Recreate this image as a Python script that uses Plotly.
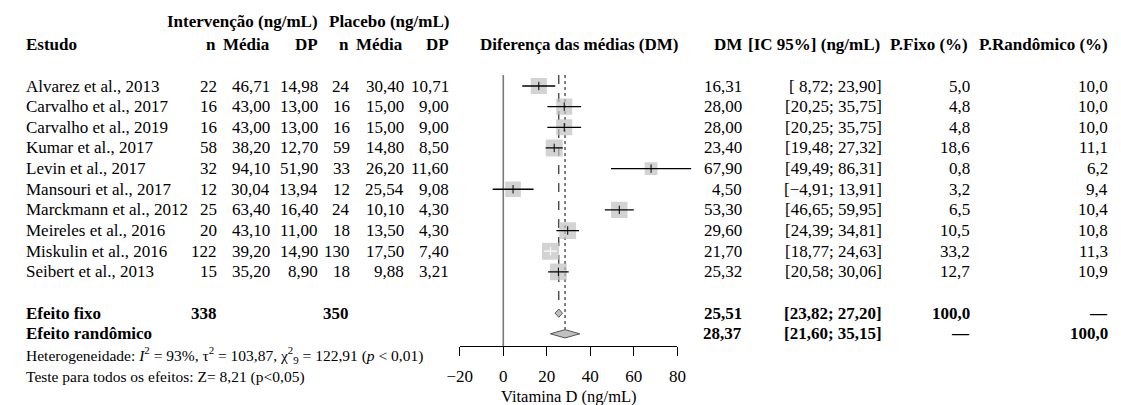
import plotly.graph_objects as go
import math

# ---------------- data ----------------
studies = ["Alvarez et al., 2013", "Carvalho et al., 2017", "Carvalho et al., 2019",
           "Kumar et al., 2017", "Levin et al., 2017", "Mansouri et al., 2017",
           "Marckmann et al., 2012", "Meireles et al., 2016", "Miskulin et al., 2016",
           "Seibert et al., 2013"]
n_int = [22, 16, 16, 58, 32, 12, 25, 20, 122, 15]
mean_int = [46.71, 43.00, 43.00, 38.20, 94.10, 30.04, 63.40, 43.10, 39.20, 35.20]
sd_int = [14.98, 13.00, 13.00, 12.70, 51.90, 13.94, 16.40, 11.00, 14.90, 8.90]
n_pla = [24, 16, 16, 59, 33, 12, 24, 18, 130, 18]
mean_pla = [30.40, 15.00, 15.00, 14.80, 26.20, 25.54, 10.10, 13.50, 17.50, 9.88]
sd_pla = [10.71, 9.00, 9.00, 8.50, 11.60, 9.08, 4.30, 4.30, 7.40, 3.21]
md = [16.31, 28.00, 28.00, 23.40, 67.90, 4.50, 53.30, 29.60, 21.70, 25.32]
ci_low = [8.72, 20.25, 20.25, 19.48, 49.49, -4.91, 46.65, 24.39, 18.77, 20.58]
ci_high = [23.90, 35.75, 35.75, 27.32, 86.31, 13.91, 59.95, 34.81, 24.63, 30.06]
w_fixed = [5.0, 4.8, 4.8, 18.6, 0.8, 3.2, 6.5, 10.5, 33.2, 12.7]
w_random = [10.0, 10.0, 10.0, 11.1, 6.2, 9.4, 10.4, 10.8, 11.3, 10.9]

total_n_int = 338
total_n_pla = 350
fixed_est, fixed_lo, fixed_hi = 25.51, 23.82, 27.20
rand_est, rand_lo, rand_hi = 28.37, 21.60, 35.15
het_text = ("Heterogeneidade: <i>I</i><sup>2</sup> = 93%, τ<sup>2</sup> = 103,87, "
            "χ<sup>2</sup><sub>9</sub> = 122,91 (<i>p</i> < 0,01)")
test_text = "Teste para todos os efeitos: Z= 8,21 (p<0,05)"
axis_ticks = [-20, 0, 20, 40, 60, 80]
axis_title = "Vitamina D (ng/mL)"

# ---------------- layout constants ----------------
W, H = 1121, 405
FONT = "Liberation Serif, Times New Roman, serif"
FS = 17
FS_SMALL = 15.5
row0_px, row_step = 86.0, 20.65
x_px0, x_px80 = 455.7, 677.7        # pixel of -20 and 80
scale = (x_px80 - x_px0) / 100.0    # px per unit
axis_px = 346
y_top = (0 - row0_px) / row_step
y_bot = (H - row0_px) / row_step
data_hi = 95


def fmt2(v):
    s = f"{abs(v):.2f}".replace(".", ",")
    return ("\u2212" if v < 0 else "") + s


def fmt1(v):
    return f"{v:.1f}".replace(".", ",")


def ci_txt(lo, hi):
    a = fmt2(lo)
    if len(a) < 5:
        a = "\u00a0" + a
    return f"[{a}; {fmt2(hi)}]"


fig = go.Figure()
annotations = []


def add(text, px, row, anchor="right", size=FS, bold=False):
    if bold:
        text = f"<b>{text}</b>"
    annotations.append(dict(text=text, x=px / W, xref="paper", y=row, yref="y",
                            xanchor=anchor, yanchor="middle", align=anchor,
                            showarrow=False, borderpad=0,
                            font=dict(family=FONT, size=size, color="black")))


# headers
add("Intervenção (ng/mL)", 312, -3.1, bold=True)
add("Placebo (ng/mL)", 446, -3.1, bold=True)
add("Estudo", 12, -2.0, "left", bold=True)
for txt, px in [("n", 208), ("Média", 263), ("DP", 312), ("n", 344), ("Média", 399), ("DP", 446)]:
    add(txt, px, -2.0, bold=True)
add("Diferença das médias (DM)", 577, -2.0, "center", bold=True)
add("DM", 745, -2.0, bold=True)
add("[IC 95%] (ng/mL)", 885, -2.0, bold=True)
add("P.Fixo (%)", 975, -2.0, bold=True)
add("P.Randômico (%)", 1118, -2.0, bold=True)

# study rows
for i, s in enumerate(studies):
    add(s, 12, i, "left")
    add(str(n_int[i]), 209, i)
    add(fmt2(mean_int[i]), 263, i)
    add(fmt2(sd_int[i]), 312, i)
    add(str(n_pla[i]), 345, i)
    add(fmt2(mean_pla[i]), 400, i)
    add(fmt2(sd_pla[i]), 446, i)
    add(fmt2(md[i]), 745, i)
    add(ci_txt(ci_low[i], ci_high[i]), 887, i)
    add(fmt1(w_fixed[i]), 977, i)
    add(fmt1(w_random[i]), 1118, i)

r_fix = len(studies) + 1
r_ran = len(studies) + 2
add("Efeito fixo", 12, r_fix, "left", bold=True)
add(str(total_n_int), 209, r_fix, bold=True)
add(str(total_n_pla), 344, r_fix, bold=True)
add(fmt2(fixed_est), 745, r_fix, bold=True)
add(ci_txt(fixed_lo, fixed_hi), 887, r_fix, bold=True)
add("100,0", 977, r_fix, bold=True)
add("—", 1118, r_fix, bold=True)
add("Efeito randômico", 12, r_ran, "left", bold=True)
add(fmt2(rand_est), 745, r_ran, bold=True)
add(ci_txt(rand_lo, rand_hi), 887, r_ran, bold=True)
add("—", 977, r_ran, bold=True)
add("100,0", 1118, r_ran, bold=True)
add(het_text, 12, r_ran + 1.02, "left", size=FS_SMALL)
add(test_text, 12, r_ran + 2.1, "left", size=FS_SMALL)
add(axis_title, 567, (396 - row0_px) / row_step, "center", size=16.5)

# reference lines
line_top = -0.53
axis_row = (axis_px - row0_px) / row_step
fig.add_trace(go.Scatter(x=[0, 0], y=[line_top, axis_row], mode="lines",
                         line=dict(color="#7a7a7a", width=1.6), hoverinfo="skip"))
fig.add_trace(go.Scatter(x=[fixed_est, fixed_est], y=[line_top, r_fix - 0.2], mode="lines",
                         line=dict(color="black", width=1, dash="dash"), hoverinfo="skip"))
fig.add_trace(go.Scatter(x=[rand_est, rand_est], y=[line_top, r_ran - 0.2], mode="lines",
                         line=dict(color="black", width=1, dash="dot"), hoverinfo="skip"))

# squares
sizes = [5.1 * math.sqrt(w) for w in w_random]
rows = list(range(len(studies)))
fig.add_trace(go.Scatter(x=md, y=rows, mode="markers",
                         marker=dict(symbol="square", size=sizes, color="#c0c0c0",
                                     line=dict(width=0)), hoverinfo="skip"))

# CI lines + centre ticks
for i in rows:
    col = "white" if (ci_high[i] - ci_low[i]) * scale < sizes[i] else "black"
    fig.add_trace(go.Scatter(x=[ci_low[i], ci_high[i]], y=[i, i], mode="lines",
                             line=dict(color=col, width=1.3), hoverinfo="skip"))
    fig.add_trace(go.Scatter(x=[md[i]], y=[i], mode="markers",
                             marker=dict(symbol="line-ns-open", size=6, color=col,
                                         line=dict(color=col, width=1)), hoverinfo="skip"))

# diamonds
for est, lo, hi, r in [(fixed_est, fixed_lo, fixed_hi, r_fix), (rand_est, rand_lo, rand_hi, r_ran)]:
    h = 0.2
    fig.add_trace(go.Scatter(x=[lo, est, hi, est, lo], y=[r, r - h, r, r + h, r],
                             mode="lines", fill="toself", fillcolor="#c0c0c0",
                             line=dict(color="#555555", width=1), hoverinfo="skip"))

# dummy trace for the visible axis
fig.add_trace(go.Scatter(x=[-20, 80], y=[axis_row, axis_row], xaxis="x2", mode="markers",
                         marker=dict(opacity=0), hoverinfo="skip"))

fig.update_layout(
    width=W, height=H, margin=dict(l=0, r=0, t=0, b=0),
    paper_bgcolor="white", plot_bgcolor="rgba(0,0,0,0)", showlegend=False,
    annotations=annotations,
    xaxis=dict(domain=[x_px0 / W, (x_px0 + (data_hi + 20) * scale) / W],
               range=[-20, data_hi], visible=False),
    xaxis2=dict(domain=[x_px0 / W, x_px80 / W], range=[-20, 80], anchor="free",
                position=1 - axis_px / H, showline=True,
                linecolor="black", linewidth=1, ticks="outside", ticklen=9,
                tickcolor="black", tickwidth=1, tickvals=axis_ticks,
                showgrid=False, zeroline=False, ticklabelstandoff=6,
                tickfont=dict(family=FONT, size=17, color="black")),
    yaxis=dict(domain=[0, 1], range=[y_bot, y_top], visible=False),
)

fig.write_html("out.html", config={"displayModeBar": False},
               post_script="document.body.style.margin='0';")
